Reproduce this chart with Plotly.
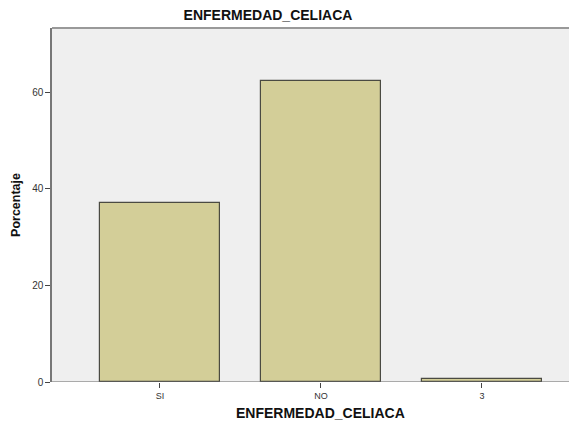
import plotly.graph_objects as go

categories = ["SI", "NO", "3"]
percentages = [37.1, 62.3, 0.6]
y_ticks = [0, 20, 40, 60]

# page body has an 8px default margin; size the figure to fill the rest
W, H = 569, 416
fig = go.Figure()
fig.add_trace(go.Bar(
    x=[0, 1, 2], y=percentages, width=0.75,
    marker=dict(color="#D3CE98", line=dict(color="#4a4a42", width=1.2)),
))

fig.update_layout(
    width=W, height=H,
    margin=dict(l=44, r=0, t=20, b=42, autoexpand=False),
    paper_bgcolor="white", plot_bgcolor="#EFEFEF",
    showlegend=False,
    font=dict(family="Liberation Sans, Arial, sans-serif", color="#222"),
    title=dict(text="<b>ENFERMEDAD_CELIACA</b>", x=260/W, xanchor="center",
               y=1 - 7/H, yanchor="middle", font=dict(size=14, color="#111")),
    bargap=0,
)
fig.update_xaxes(
    range=[-0.67, 2.59], tickvals=[0, 1, 2], ticktext=categories,
    ticks="outside", ticklen=5, tickcolor="#444", tickfont=dict(size=9, color="#333"),
    showline=False, showgrid=False, zeroline=False,
)
fig.update_yaxes(
    range=[0, 73.3], tickvals=y_ticks, ticks="outside", ticklen=5, tickcolor="#444",
    tickfont=dict(size=10, color="#333"),
    showline=True, linecolor="#777", linewidth=1.5,
    showgrid=False, zeroline=False,
    title=dict(text="<b>Porcentaje</b>", font=dict(size=12.5, color="#111"), standoff=9),
)
# bottom baseline and top frame
fig.add_shape(type="line", xref="paper", yref="y", x0=0, x1=1, y0=0, y1=0,
              line=dict(color="#666", width=1.2), layer="above")
fig.add_shape(type="line", xref="paper", yref="paper", x0=0, x1=1, y0=1, y1=1,
              line=dict(color="#999", width=2))
fig.add_annotation(text="<b>ENFERMEDAD_CELIACA</b>", xref="x", yref="paper",
                   x=1, y=-21/354, showarrow=False, yanchor="top",
                   font=dict(size=14, color="#111"))

fig.write_html("out.html")
